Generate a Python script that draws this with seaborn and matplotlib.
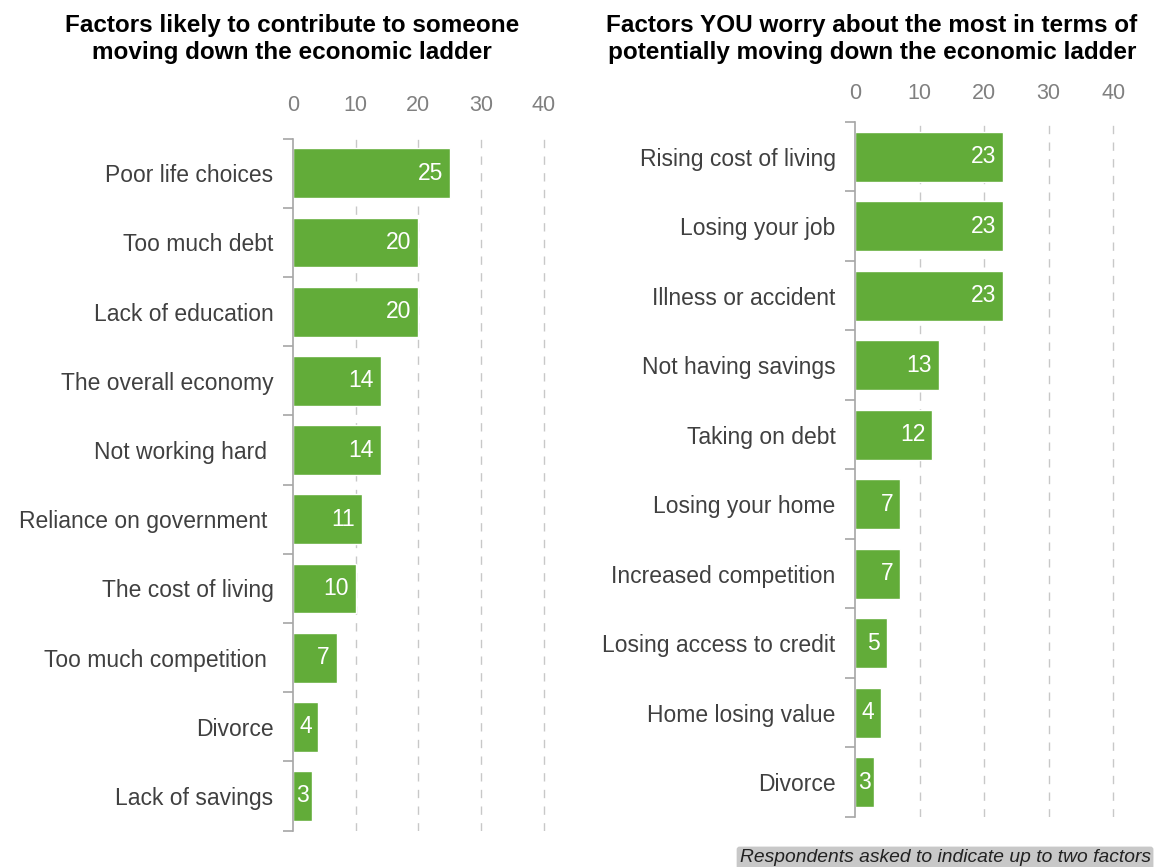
import matplotlib
matplotlib.use("Agg")
import matplotlib.pyplot as plt
import seaborn as sns
import pandas as pd
import numpy as np

LEFT_TITLE = "Factors likely to contribute to someone\nmoving down the economic ladder"
RIGHT_TITLE = "Factors YOU worry about the most in terms of\npotentially moving down the economic ladder"
NOTE = "Respondents asked to indicate up to two factors"

left_factors = ["Poor life choices", "Too much debt", "Lack of education", "The overall economy",
                "Not working hard ", "Reliance on government ", "The cost of living",
                "Too much competition ", "Divorce", "Lack of savings"]
left_values = [25, 20, 20, 14, 14, 11, 10, 7, 4, 3]

right_factors = ["Rising cost of living", "Losing your job", "Illness or accident", "Not having savings",
                 "Taking on debt", "Losing your home", "Increased competition",
                 "Losing access to credit", "Home losing value", "Divorce"]
right_values = [23, 23, 23, 13, 12, 7, 7, 5, 4, 3]

xticks = [0, 10, 20, 30, 40]

GREEN = "#62AC39"
GRAY = "#A6A6A6"

sns.set_theme(style="white")
plt.rcParams["font.family"] = ["Liberation Sans", "DejaVu Sans"]

fig = plt.figure(figsize=(11.54, 8.67), dpi=100)
ax_l = fig.add_axes([0.2539, 0.042, 0.239, 0.798])
ax_r = fig.add_axes([0.7409, 0.0577, 0.246, 0.8016])


def draw(ax, factors, values, top_pad):
    df = pd.DataFrame({"factor": factors, "value": values})
    sns.barplot(data=df, x="value", y="factor", orient="h", color=GREEN,
                saturation=1, width=0.72, ax=ax)
    ax.set_xlim(0, 44)
    ax.set_ylim(len(factors) - 0.5, -0.5)
    ax.set_xticks(xticks)
    ax.xaxis.tick_top()
    ax.tick_params(axis="x", length=0, labelsize=15.5, labelcolor="#808080", pad=top_pad)
    for x in xticks[1:]:
        ax.axvline(x, color="#C8C8C8", lw=1, ls=(0, (6, 6)), zorder=0)
    ax.set_xlabel("")
    ax.set_ylabel("")
    for s in ["top", "right", "bottom"]:
        ax.spines[s].set_visible(False)
    ax.spines["left"].set_color(GRAY)
    ax.spines["left"].set_linewidth(1.2)
    ax.tick_params(axis="y", which="major", left=True, length=0, labelsize=16.5,
                   labelcolor="#404040", pad=14)
    ax.set_yticks(np.arange(-0.5, len(factors), 1), minor=True)
    ax.tick_params(axis="y", which="minor", left=True, length=7, color=GRAY, width=1.2)
    for i, v in enumerate(values):
        if v <= 4:
            # label does not fit at the bar end: centre it in the bar
            ax.text(v / 2, i, str(v), ha="center", va="center", color="white", fontsize=16.5)
        else:
            ax.annotate(str(v), xy=(v, i), xytext=(-5, 0), textcoords="offset points",
                        ha="right", va="center", color="white", fontsize=16.5)


draw(ax_l, left_factors, left_values, 16)
draw(ax_r, right_factors, right_values, 13)

fig.text(0.253, 0.955, LEFT_TITLE, ha="center", va="center", fontsize=17.5,
         fontweight="bold", color="black", linespacing=1.2)
fig.text(0.7556, 0.955, RIGHT_TITLE, ha="center", va="center", fontsize=17.5,
         fontweight="bold", color="black", linespacing=1.2)
fig.text(0.997, 0.0104, NOTE, ha="right", va="center", fontsize=13.9, style="italic",
         color="#222222",
         bbox=dict(boxstyle="round,pad=0.15", fc="#C8C8C8", ec="none"))

fig.savefig("out.png", dpi=100)
